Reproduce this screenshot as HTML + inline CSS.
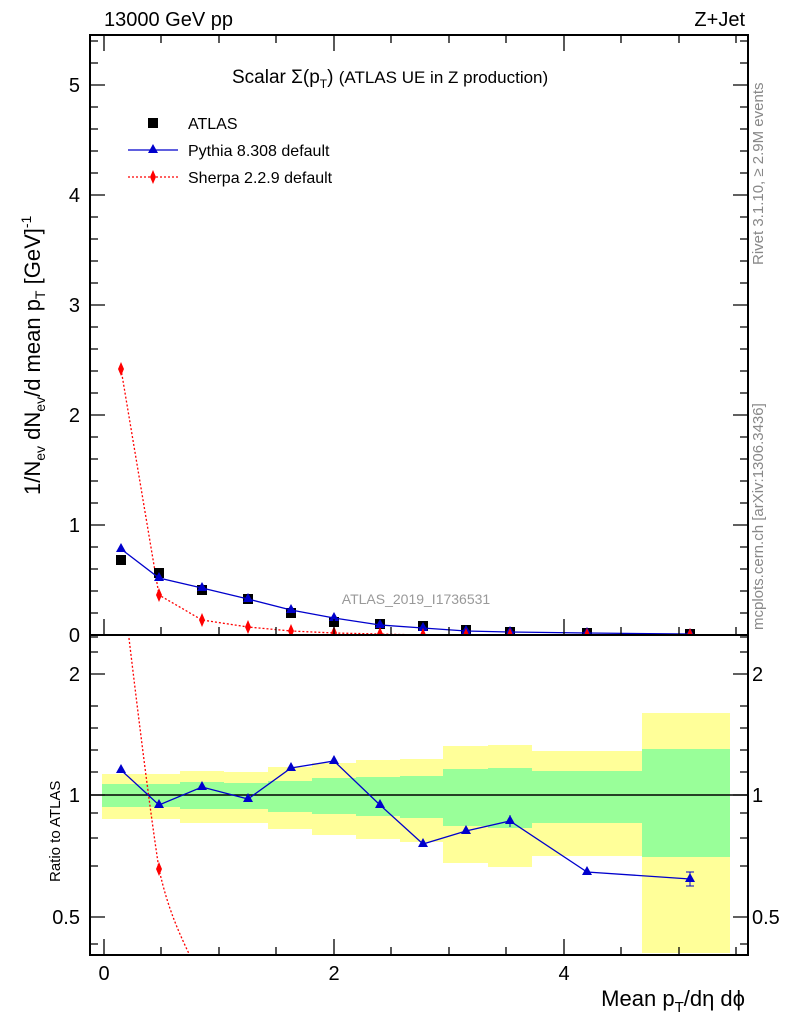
<!DOCTYPE html><html><head><style>body{margin:0;background:#fff}svg{display:block}text{font-family:"Liberation Sans",sans-serif}</style></head><body>
<svg width="786" height="1024" xmlns="http://www.w3.org/2000/svg">
<defs>
<clipPath id="ct"><rect x="90" y="35" width="658" height="600"/></clipPath>
<clipPath id="cr"><rect x="90" y="635" width="658" height="320"/></clipPath>
</defs>
<g clip-path="url(#cr)">
<g fill="#ffff99">
<rect x="102" y="774" width="79" height="45"/><rect x="180" y="771" width="44" height="52"/><rect x="224" y="772" width="44" height="51"/><rect x="268" y="767" width="44" height="62"/><rect x="312" y="763" width="44" height="72"/><rect x="356" y="760" width="44" height="79"/><rect x="400" y="759" width="43" height="83"/><rect x="443" y="746" width="45" height="117"/><rect x="488" y="745" width="44" height="122"/><rect x="532" y="751" width="110" height="105"/><rect x="642" y="713" width="88" height="240"/>
</g>
<g fill="#99ff99">
<rect x="102" y="784" width="79" height="23"/><rect x="180" y="782" width="44" height="27"/><rect x="224" y="783" width="44" height="26"/><rect x="268" y="781" width="44" height="31"/><rect x="312" y="778" width="44" height="36"/><rect x="356" y="777" width="44" height="39"/><rect x="400" y="776" width="43" height="42"/><rect x="443" y="769" width="45" height="57"/><rect x="488" y="768" width="44" height="60"/><rect x="532" y="771" width="110" height="52"/><rect x="642" y="749" width="88" height="108"/>
</g>
<line x1="90" y1="795" x2="748" y2="795" stroke="#000" stroke-width="1.5"/>
<path d="M128,630 C140,730 150,810 159,869 C168,910 180,935 192,960" fill="none" stroke="red" stroke-width="1.3" stroke-dasharray="2,2"/>
<path d="M156,869 l3,-7 l3,7 l-3,7z" fill="red"/>
<polyline points="121,770 159,805 202,787 248,799 291,768 334,761 380,805 423,844 466,831 510,821 587,872 690,879" fill="none" stroke="#0000cc" stroke-width="1.3"/>
<line x1="510" y1="815" x2="510" y2="827" stroke="#0000cc"/><line x1="686" y1="872" x2="694" y2="872" stroke="#0000cc"/><line x1="686" y1="886" x2="694" y2="886" stroke="#0000cc"/><line x1="690" y1="872" x2="690" y2="886" stroke="#0000cc"/>
<g fill="#0000cc">
<path d="M121,764 l-5,9 h10z"/><path d="M159,799 l-5,9 h10z"/><path d="M202,781 l-5,9 h10z"/><path d="M248,793 l-5,9 h10z"/><path d="M291,762 l-5,9 h10z"/><path d="M334,755 l-5,9 h10z"/><path d="M380,799 l-5,9 h10z"/><path d="M423,838 l-5,9 h10z"/><path d="M466,825 l-5,9 h10z"/><path d="M510,815 l-5,9 h10z"/><path d="M587,866 l-5,9 h10z"/><path d="M690,873 l-5,9 h10z"/>
</g>
</g>
<g clip-path="url(#ct)">
<polyline points="121,369 159,595 202,620 248,627 291,631 334,633 380,634 423,635 466,635 510,635 587,635 690,635" fill="none" stroke="red" stroke-width="1.3" stroke-dasharray="2,2"/>
<g fill="#000">
<rect x="116" y="555" width="10" height="10"/><rect x="154" y="568" width="10" height="10"/><rect x="197" y="585" width="10" height="10"/><rect x="243" y="594" width="10" height="10"/><rect x="286" y="608" width="10" height="10"/><rect x="329" y="617" width="10" height="10"/><rect x="375" y="619" width="10" height="10"/><rect x="418" y="621" width="10" height="10"/><rect x="461" y="625" width="10" height="10"/><rect x="505" y="627" width="10" height="10"/><rect x="582" y="628" width="10" height="10"/><rect x="685" y="629" width="10" height="10"/>
</g>
<polyline points="121,549 159,578 202,588 248,599 291,610 334,618 380,625 423,628 466,631 510,632 587,633 690,634" fill="none" stroke="#0000cc" stroke-width="1.3"/>
<g fill="#0000cc">
<path d="M121,543 l-5,9 h10z"/><path d="M159,572 l-5,9 h10z"/><path d="M202,582 l-5,9 h10z"/><path d="M248,593 l-5,9 h10z"/><path d="M291,604 l-5,9 h10z"/><path d="M334,612 l-5,9 h10z"/><path d="M380,619 l-5,9 h10z"/><path d="M423,622 l-5,9 h10z"/><path d="M466,625 l-5,9 h10z"/><path d="M510,626 l-5,9 h10z"/><path d="M587,627 l-5,9 h10z"/><path d="M690,628 l-5,9 h10z"/>
</g>
<g fill="red">
<path d="M121,362 l3,7 l-3,7 l-3,-7z"/><path d="M159,588 l3,7 l-3,7 l-3,-7z"/><path d="M202,613 l3,7 l-3,7 l-3,-7z"/><path d="M248,620 l3,7 l-3,7 l-3,-7z"/><path d="M291,624 l3,7 l-3,7 l-3,-7z"/><path d="M334,626 l3,7 l-3,7 l-3,-7z"/><path d="M380,627 l3,7 l-3,7 l-3,-7z"/><path d="M423,628 l3,7 l-3,7 l-3,-7z"/><path d="M466,628 l3,7 l-3,7 l-3,-7z"/><path d="M510,628 l3,7 l-3,7 l-3,-7z"/><path d="M587,628 l3,7 l-3,7 l-3,-7z"/><path d="M690,628 l3,7 l-3,7 l-3,-7z"/>
</g>
</g>
<rect x="90" y="35" width="658" height="600" fill="none" stroke="#000" stroke-width="2"/>
<rect x="90" y="635" width="658" height="320" fill="none" stroke="#000" stroke-width="2"/>
<g stroke="#000" stroke-width="1.3">
<path d="M90,525h15M90,415h15M90,305h15M90,195h15M90,85h15M748,525h-15M748,415h-15M748,305h-15M748,195h-15M748,85h-15"/>
<path d="M90,613h8M90,591h8M90,569h8M90,547h8M90,503h8M90,481h8M90,459h8M90,437h8M90,393h8M90,371h8M90,349h8M90,327h8M90,283h8M90,261h8M90,239h8M90,217h8M90,173h8M90,151h8M90,129h8M90,107h8M90,63h8M90,41h8"/>
<path d="M748,613h-8M748,591h-8M748,569h-8M748,547h-8M748,503h-8M748,481h-8M748,459h-8M748,437h-8M748,393h-8M748,371h-8M748,349h-8M748,327h-8M748,283h-8M748,261h-8M748,239h-8M748,217h-8M748,173h-8M748,151h-8M748,129h-8M748,107h-8M748,63h-8M748,41h-8"/>
<path d="M104,635v-16M334,635v-16M564,635v-16M104,35v16M334,35v16M564,35v16M104,955v-16M334,955v-16M564,955v-16"/>
<path d="M161,635v-8M219,635v-8M276,635v-8M391,635v-8M449,635v-8M506,635v-8M621,635v-8M679,635v-8M736,635v-8M161,35v8M219,35v8M276,35v8M391,35v8M449,35v8M506,35v8M621,35v8M679,35v8M736,35v8M161,955v-8M219,955v-8M276,955v-8M391,955v-8M449,955v-8M506,955v-8M621,955v-8M679,955v-8M736,955v-8"/>
<path d="M90,674h15M90,795h15M90,917h15M748,674h-15M748,795h-15M748,917h-15"/>
<path d="M90,652h8M90,637h8M90,706h8M90,728h8M90,750h8M90,772h8M90,813h8M90,838h8M90,866h8M90,944h8M748,652h-8M748,637h-8M748,706h-8M748,728h-8M748,750h-8M748,772h-8M748,813h-8M748,838h-8M748,866h-8M748,944h-8"/>
</g>
<g font-size="20" fill="#000">
<text x="80" y="642" text-anchor="end">0</text><text x="80" y="532" text-anchor="end">1</text><text x="80" y="422" text-anchor="end">2</text><text x="80" y="312" text-anchor="end">3</text><text x="80" y="202" text-anchor="end">4</text><text x="80" y="92" text-anchor="end">5</text>
<text x="80" y="681" text-anchor="end">2</text><text x="80" y="802" text-anchor="end">1</text><text x="80" y="924" text-anchor="end">0.5</text>
<text x="752" y="681">2</text><text x="752" y="802">1</text><text x="752" y="924">0.5</text>
<text x="104" y="980" text-anchor="middle">0</text><text x="334" y="980" text-anchor="middle">2</text><text x="564" y="980" text-anchor="middle">4</text>
<text x="104" y="26">13000 GeV pp</text><text x="745" y="26" text-anchor="end">Z+Jet</text>
</g>
<text x="745" y="1006" font-size="22" text-anchor="end">Mean p<tspan font-size="15" dy="6">T</tspan><tspan dy="-6">/dη dϕ</tspan></text>
<text transform="translate(60,882) rotate(-90)" font-size="15">Ratio to ATLAS</text>
<text transform="translate(40,495) rotate(-90)" font-size="22">1/N<tspan font-size="14" dy="5">ev</tspan><tspan dy="-5"> dN</tspan><tspan font-size="14" dy="5">ev</tspan><tspan dy="-5">/d mean p</tspan><tspan font-size="14" dy="5">T</tspan><tspan dy="-5"> [GeV]</tspan><tspan font-size="14" dy="-9">-1</tspan></text>
<text x="232" y="83" font-size="19">Scalar Σ(p<tspan font-size="12" dy="5">T</tspan><tspan dy="-5">) </tspan><tspan font-size="17">(ATLAS UE in Z production)</tspan></text>
<rect x="148" y="118" width="10" height="10"/>
<text x="188" y="129" font-size="16">ATLAS</text>
<line x1="128" y1="150" x2="178" y2="150" stroke="#0000cc" stroke-width="1.3"/><path d="M153,144 l-5,9 h10z" fill="#0000cc"/>
<text x="188" y="156" font-size="16">Pythia 8.308 default</text>
<line x1="128" y1="177" x2="178" y2="177" stroke="red" stroke-width="1.3" stroke-dasharray="2,2"/><path d="M153,170 l3,7 l-3,7 l-3,-7z" fill="red"/>
<text x="188" y="183" font-size="16">Sherpa 2.2.9 default</text>
<text x="416" y="604" font-size="14" fill="#999" text-anchor="middle">ATLAS_2019_I1736531</text>
<text transform="translate(763,265) rotate(-90)" font-size="15" fill="#888">Rivet 3.1.10, ≥ 2.9M events</text>
<text transform="translate(763,630) rotate(-90)" font-size="15" fill="#888">mcplots.cern.ch [arXiv:1306.3436]</text>
</svg></body></html>
